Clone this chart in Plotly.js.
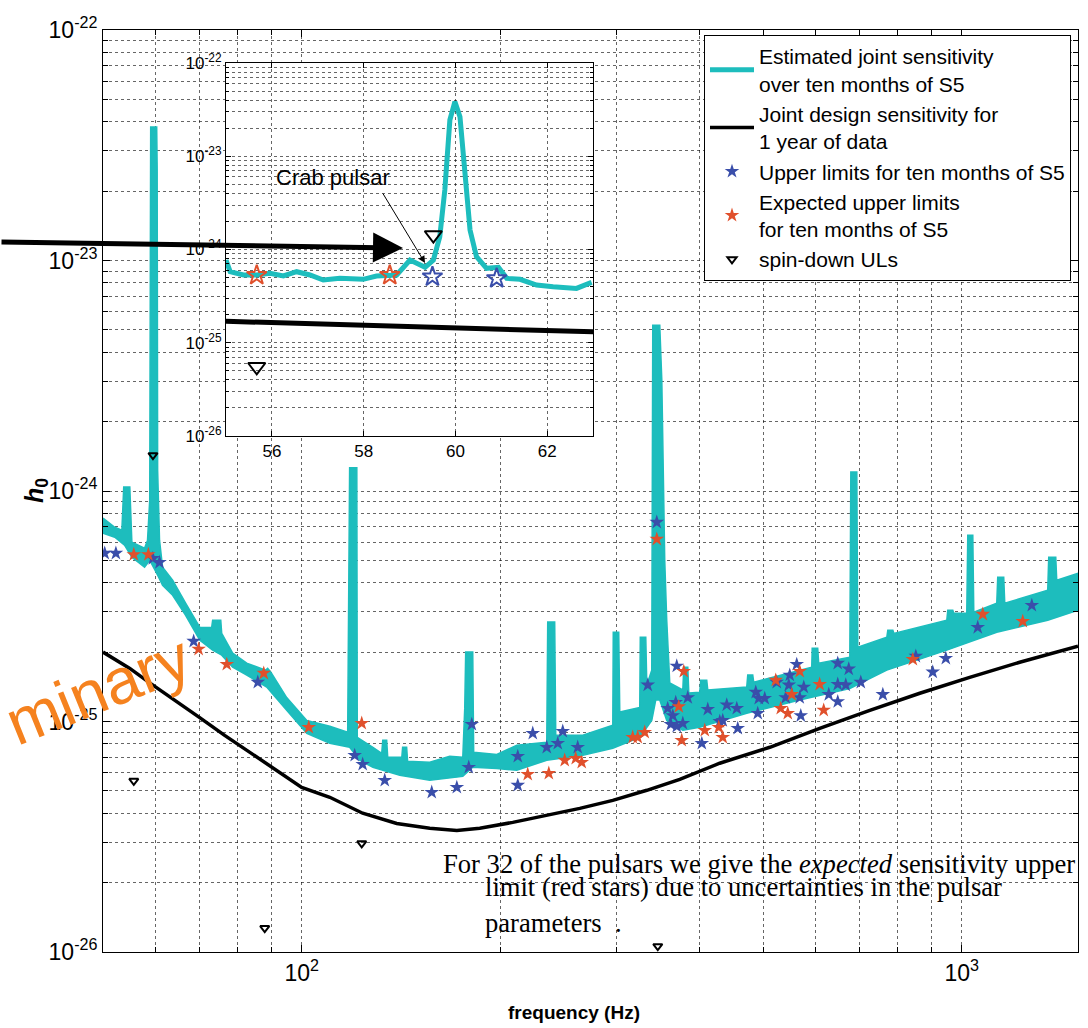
<!DOCTYPE html>
<html>
<head>
<meta charset="utf-8">
<script src="https://cdn.plot.ly/plotly-3.0.1.min.js"></script>
<style>html,body{margin:0;padding:0;background:#fff;}#chart{width:1088px;height:1028px;}</style>
</head>
<body>
<div id="chart"></div>
<script>
// ---------- data ----------
// Estimated joint sensitivity (main plot): upper and lower edge of the thick band
const sensUpperF = [50.0, 52.1, 53.4, 53.75, 54.9, 55.3, 57.8, 58.4, 58.85, 59.05, 60.3, 60.4, 60.5, 60.9, 61.55, 63.75, 66.7, 70.1, 73.05, 73.3, 75.4, 75.65, 78.6, 82.55, 88.2, 88.8, 89.75, 94.9, 101.8, 110.3, 117.4, 118.2, 121.2, 121.4, 128.2, 132.2, 132.7, 134.5, 135.0, 141.8, 142.2, 144.2, 144.7, 156.3, 167.6, 175.4, 176.6, 177.2, 181.6, 182.2, 197.5, 211.8, 235.1, 235.9, 241.7, 242.6, 266.6, 296.0, 296.5, 302.2, 303.3, 325.2, 325.8, 332.1, 333.3, 339.1, 340.3, 348.7, 351.2, 354.8, 357.3, 361.1, 377.9, 379.2, 384.5, 385.9, 400.9, 402.3, 410.8, 412.3, 472.3, 474.0, 482.3, 484.0, 592.5, 593.5, 605.0, 607.1, 676.7, 679.1, 693.4, 695.8, 769.9, 772.6, 786.3, 789.0, 949.1, 952.4, 969.2, 972.5, 1017.6, 1021.2, 1039.2, 1042.8, 1129.8, 1133.7, 1157.6, 1161.8, 1349.7, 1354.4, 1388, 1392.8, 1500];
const sensUpperH = [7.62e-25, 6.96e-25, 6.76e-25, 1.04e-24, 1.04e-24, 5.99e-25, 5.65e-25, 6.12e-25, 9.12e-25, 3.79e-23, 3.79e-23, 2.49e-23, 1.23e-24, 6.12e-25, 4.67e-25, 4.10e-25, 3.26e-25, 2.56e-25, 2.56e-25, 2.75e-25, 2.75e-25, 2.41e-25, 1.98e-25, 1.79e-25, 1.67e-25, 1.70e-25, 1.64e-25, 1.27e-25, 1.01e-25, 9.53e-26, 8.98e-26, 1.26e-24, 1.26e-24, 8.54e-26, 7.73e-26, 7.28e-26, 8.29e-26, 8.29e-26, 6.99e-26, 6.99e-26, 7.73e-26, 7.73e-26, 6.72e-26, 6.65e-26, 7.06e-26, 6.99e-26, 1.14e-25, 2.0e-25, 2.0e-25, 7.35e-26, 7.2e-26, 7.88e-26, 8.12e-26, 2.70e-25, 2.70e-25, 8.71e-26, 8.71e-26, 9.63e-26, 2.44e-25, 2.44e-25, 1.10e-25, 1.15e-25, 2.32e-25, 2.32e-25, 1.44e-25, 1.67e-25, 5.24e-24, 5.24e-24, 3.03e-24, 5.01e-25, 2.75e-25, 1.47e-25, 1.37e-25, 1.72e-25, 1.72e-25, 1.33e-25, 1.34e-25, 1.51e-25, 1.51e-25, 1.37e-25, 1.41e-25, 1.59e-25, 1.59e-25, 1.48e-25, 1.72e-25, 2.08e-25, 2.08e-25, 1.79e-25, 1.90e-25, 1.21e-24, 1.21e-24, 2.10e-25, 2.32e-25, 2.49e-25, 2.49e-25, 2.41e-25, 2.75e-25, 3.04e-25, 3.04e-25, 2.95e-25, 2.95e-25, 6.43e-25, 6.43e-25, 2.98e-25, 3.26e-25, 4.23e-25, 4.23e-25, 3.26e-25, 3.71e-25, 5.16e-25, 5.16e-25, 4.10e-25, 4.40e-25];
const sensLowerF = [50.0, 52.1, 53.9, 55.3, 57.8, 58.85, 60.5, 61.55, 63.75, 66.7, 70.1, 73.3, 75.65, 78.6, 82.55, 88.5, 94.9, 101.8, 110.3, 118.2, 122.4, 128.2, 140.8, 156.3, 175.4, 181.6, 197.5, 211.8, 235.1, 266.6, 296.0, 325.2, 339.1, 343.9, 348.7, 357.3, 377.9, 400.9, 472.3, 568.2, 676.7, 769.9, 949.1, 1129.8, 1349.7, 1500];
const sensLowerH = [6.56e-25, 6.30e-25, 5.82e-25, 5.16e-25, 4.67e-25, 5.01e-25, 4.31e-25, 3.90e-25, 3.53e-25, 2.89e-25, 2.25e-25, 2.04e-25, 1.94e-25, 1.72e-25, 1.59e-25, 1.41e-25, 1.12e-25, 8.89e-26, 8.04e-26, 7.73e-26, 6.79e-26, 6.33e-26, 5.84e-26, 5.56e-26, 5.78e-26, 6.33e-26, 6.26e-26, 6.14e-26, 6.79e-26, 7.13e-26, 7.65e-26, 8.54e-26, 1.01e-25, 1.24e-25, 1.24e-25, 1.01e-25, 9.16e-26, 9.44e-26, 1.085e-25, 1.24e-25, 1.39e-25, 1.67e-25, 2.04e-25, 2.44e-25, 2.75e-25, 3.04e-25];

// Estimated joint sensitivity, fine detail near 60 Hz (inset)
const insetF = [55.0, 55.09, 55.38, 55.67, 55.96, 56.25, 56.54, 56.83, 57.12, 57.48, 57.99, 58.28, 58.72, 59.01, 59.34, 59.52, 59.66, 59.77, 59.88, 59.99, 60.10, 60.21, 60.32, 60.46, 60.68, 60.94, 61.12, 61.41, 61.77, 62.13, 62.64, 62.97];
const insetH = [7.71e-25, 5.78e-25, 5.33e-25, 5.33e-25, 5.56e-25, 5.2e-25, 5.78e-25, 5.33e-25, 4.71e-25, 4.91e-25, 4.79e-25, 5.2e-25, 5.33e-25, 7.71e-25, 6.44e-25, 7.71e-25, 1.371e-24, 4.345e-24, 2.449e-23, 3.846e-23, 2.655e-23, 5.559e-24, 1.618e-24, 8.375e-25, 6.28e-25, 6.44e-25, 4.91e-25, 4.79e-25, 4.159e-25, 3.99e-25, 3.83e-25, 4.446e-25];

// Joint design sensitivity for 1 year of data
const designF = [50.0, 54.9, 58.85, 64.2, 70.06, 76.43, 82.55, 89.45, 100, 110.3, 123.7, 139.3, 156.3, 171.8, 186.1, 208.8, 235.1, 263.8, 296.0, 333.3, 373.9, 429.9, 511.9, 609.2, 725.5, 863.8, 1028, 1224, 1500];
const designH = [2.0e-25, 1.70e-25, 1.47e-25, 1.24e-25, 1.04e-25, 8.71e-26, 7.50e-26, 6.39e-26, 5.18e-26, 4.69e-26, 4.0e-26, 3.61e-26, 3.44e-26, 3.37e-26, 3.44e-26, 3.65e-26, 3.92e-26, 4.20e-26, 4.55e-26, 5.03e-26, 5.61e-26, 6.59e-26, 7.73e-26, 9.34e-26, 1.118e-25, 1.326e-25, 1.555e-25, 1.807e-25, 2.12e-25];

// Upper limits for ten months of S5 (blue stars)
const ulF = [50.3, 52.3, 59.5, 60.9, 68.6, 85.8, 120.3, 123.7, 133.6, 157.4, 171.8, 179.1, 181.0, 212.5, 212.5, 223.9, 235.1, 244.3, 248.6, 261.9, 334.4, 345.1, 370.0, 358.5, 368.7, 364.9, 362.4, 370.0, 377.9, 384.5, 412.3, 403.8, 429.9, 434.4, 440.5, 456.2, 457.7, 487.4, 490.8, 492.5, 502.9, 524.4, 541.1, 548.8, 546.9, 562.3, 570.3, 568.2, 576.3, 628.8, 648.8, 648.8, 648.8, 667.2, 674.2, 703.1, 759.3, 851.9, 903.7, 945.9, 1057.3, 1276.8];
const ulH = [5.37e-25, 5.37e-25, 5.1e-25, 4.9e-25, 2.23e-25, 1.48e-25, 7.13e-26, 6.52e-26, 5.56e-26, 4.93e-26, 5.18e-26, 6.33e-26, 9.72e-26, 7.06e-26, 5.29e-26, 8.89e-26, 7.73e-26, 8.04e-26, 9.07e-26, 7.73e-26, 1.44e-25, 7.32e-25, 1.74e-25, 1.14e-25, 1.21e-25, 1.06e-25, 9.72e-26, 9.53e-26, 9.82e-26, 1.27e-25, 1.13e-25, 8.04e-26, 1.0e-25, 1.01e-25, 1.18e-25, 1.14e-25, 9.34e-26, 1.34e-25, 1.085e-25, 1.26e-25, 1.26e-25, 1.48e-25, 1.27e-25, 1.59e-25, 1.44e-25, 1.77e-25, 1.06e-25, 1.27e-25, 1.41e-25, 1.31e-25, 1.45e-25, 1.22e-25, 1.79e-25, 1.44e-25, 1.69e-25, 1.48e-25, 1.31e-25, 1.92e-25, 1.64e-25, 1.88e-25, 2.56e-25, 3.19e-25];

// Expected upper limits for ten months of S5 (red stars)
const expF = [55.67, 58.57, 69.8, 77.0, 87.6, 102.5, 123.3, 220.0, 236.8, 250.3, 260.1, 265.6, 317.3, 322.9, 330.9, 345.1, 379.2, 372.6, 376.5, 408.0, 428.4, 434.4, 522.6, 531.8, 545.0, 568.2, 552.6, 609.2, 617.8, 843.0, 1076, 1237];
const expH = [5.3e-25, 5.3e-25, 2.06e-25, 1.77e-25, 1.62e-25, 9.44e-26, 9.82e-26, 5.90e-26, 5.96e-26, 6.79e-26, 6.92e-26, 6.65e-26, 8.54e-26, 8.54e-26, 8.98e-26, 6.18e-25, 1.65e-25, 1.16e-25, 8.29e-26, 9.16e-26, 9.44e-26, 8.54e-26, 1.51e-25, 1.14e-25, 1.085e-25, 1.65e-25, 1.31e-25, 1.45e-25, 1.12e-25, 1.86e-25, 2.92e-25, 2.72e-25];

// spin-down upper limits (triangles)
const sdF = [55.67, 59.52, 87.9, 123.3, 346.3];
const sdH = [5.53e-26, 1.43e-24, 1.27e-26, 2.96e-26, 1.06e-26];

// tick labels
const yDecadeVals = [1e-26, 1e-25, 1e-24, 1e-23, 1e-22];
const yDecadeText = ['10<sup>-26</sup>', '10<sup>-25</sup>', '10<sup>-24</sup>', '10<sup>-23</sup>', '10<sup>-22</sup>'];
const xDecadeVals = [100, 1000];
const xDecadeText = ['10<sup>2</sup>', '10<sup>3</sup>'];
const insetXTicks = [56, 58, 60, 62];
const insetXText = ['56', '58', '60', '62'];

// ---------- styling ----------
const CYAN = '#1DBDBD', BLUE = '#3A4EAA', RED = '#E0502C', ORANGE = '#F5821F';
const SANS = 'Liberation Sans, Arial, Helvetica, sans-serif';
const SERIF = 'Liberation Serif, Times New Roman, serif';
const GRID = 'rgba(0,0,0,0.6)';

// minor (unlabelled) log tick positions: 2..9 x 10^n
const yMinorVals = [];
[-26, -25, -24, -23].forEach(function (e) {
  for (let m = 2; m <= 9; m++) yMinorVals.push(m * Math.pow(10, e));
});
const xMinorVals = [];
[10, 100, 1000].forEach(function (d) {
  for (let m = 2; m <= 9; m++) {
    const v = m * d;
    if (v > 50 && v < 1500 && v !== 100 && v !== 1000) xMinorVals.push(v);
  }
});

const bandF = sensUpperF.concat(sensLowerF.slice().reverse());
const bandH = sensUpperH.concat(sensLowerH.slice().reverse());

const traces = [
  {x: bandF, y: bandH, type: 'scatter', mode: 'lines', fill: 'toself', fillcolor: CYAN,
   line: {color: CYAN, width: 1.5}, showlegend: false, hoverinfo: 'skip', xaxis: 'x', yaxis: 'y'},
  {x: designF, y: designH, type: 'scatter', mode: 'lines', line: {color: '#000', width: 3.5},
   name: 'Joint design sensitivity for<br>1 year of data', legendrank: 2, xaxis: 'x', yaxis: 'y'},
  {x: ulF, y: ulH, type: 'scatter', mode: 'markers', marker: {symbol: 'star', size: 11, color: BLUE},
   name: 'Upper limits for ten months of S5', legendrank: 3, xaxis: 'x', yaxis: 'y'},
  {x: expF, y: expH, type: 'scatter', mode: 'markers', marker: {symbol: 'star', size: 11, color: RED},
   name: 'Expected upper limits<br>for ten months of S5', legendrank: 4, xaxis: 'x', yaxis: 'y'},
  {x: sdF, y: sdH, type: 'scatter', mode: 'markers',
   marker: {symbol: 'triangle-down-open', size: 8, color: '#000', line: {width: 2, color: '#000'}},
   name: 'spin-down ULs', legendrank: 5, xaxis: 'x', yaxis: 'y'},
  // inset
  {x: insetF, y: insetH, type: 'scatter', mode: 'lines', line: {color: CYAN, width: 5},
   name: 'Estimated joint sensitivity<br>over ten months of S5', legendrank: 1, xaxis: 'x2', yaxis: 'y2'},
  {x: designF, y: designH, type: 'scatter', mode: 'lines', line: {color: '#000', width: 5},
   showlegend: false, xaxis: 'x2', yaxis: 'y2'},
  {x: ulF, y: ulH, type: 'scatter', mode: 'markers',
   marker: {symbol: 'star-open', size: 15, color: BLUE, line: {width: 2, color: BLUE}},
   showlegend: false, xaxis: 'x2', yaxis: 'y2'},
  {x: expF, y: expH, type: 'scatter', mode: 'markers',
   marker: {symbol: 'star-open', size: 15, color: RED, line: {width: 2, color: RED}},
   showlegend: false, xaxis: 'x2', yaxis: 'y2'},
  {x: sdF, y: sdH, type: 'scatter', mode: 'markers',
   marker: {symbol: 'triangle-down-open', size: 15, color: '#000', line: {width: 2, color: '#000'}},
   showlegend: false, xaxis: 'x2', yaxis: 'y2'}
];

function px2paperX(px) { return (px - 103) / 975; }
function px2paperY(py) { return (952 - py) / 922; }

function axisStyle(extra) {
  return Object.assign({
    ticks: 'inside', ticklen: 7, tickcolor: '#000', showline: true, linecolor: '#000', linewidth: 1,
    mirror: 'ticks', showgrid: true, gridcolor: GRID, griddash: 'dot', gridwidth: 1, zeroline: false,
    tickmode: 'array'
  }, extra);
}
function minorStyle(vals, len) {
  return {tickmode: 'array', tickvals: vals, ticks: 'inside', ticklen: len, tickcolor: '#000',
          showgrid: true, gridcolor: GRID, griddash: 'dot', gridwidth: 1};
}

const layout = {
  width: 1088, height: 1028,
  margin: {l: 103, r: 10, t: 30, b: 76},
  paper_bgcolor: '#fff', plot_bgcolor: '#fff',
  font: {family: SANS, color: '#000'},
  showlegend: true,
  legend: {x: px2paperX(704), y: px2paperY(35), xanchor: 'left', yanchor: 'top',
           bgcolor: '#fff', bordercolor: '#000', borderwidth: 1, itemwidth: 44,
           font: {family: SANS, size: 21, color: '#000'}, tracegroupgap: 0},
  xaxis: axisStyle({type: 'log', range: [Math.log10(50), Math.log10(1500)], domain: [0, 1],
          tickvals: xDecadeVals, ticktext: xDecadeText, minor: minorStyle(xMinorVals, 5),
          tickfont: {family: SANS, size: 23}}),
  yaxis: axisStyle({type: 'log', range: [-26, -22], domain: [0, 1],
          tickvals: yDecadeVals, ticktext: yDecadeText, minor: minorStyle(yMinorVals, 5),
          tickfont: {family: SANS, size: 23}}),
  xaxis2: axisStyle({type: 'linear', range: [55, 63], domain: [px2paperX(226), px2paperX(593)], anchor: 'y2',
           tickvals: insetXTicks, ticktext: insetXText, ticklen: 5,
           tickfont: {family: SANS, size: 17}}),
  yaxis2: axisStyle({type: 'log', range: [-26, -22], domain: [px2paperY(436), px2paperY(63)], anchor: 'x2',
           tickvals: yDecadeVals, ticktext: yDecadeText, ticklen: 5, minor: minorStyle(yMinorVals, 3),
           tickfont: {family: SANS, size: 17}}),
  annotations: [
    // axis titles
    {text: '<b><i>h</i><sub>0</sub></b>', xref: 'paper', yref: 'paper', x: px2paperX(36), y: px2paperY(491),
     textangle: -90, showarrow: false, font: {family: SANS, size: 25}, xanchor: 'center', yanchor: 'middle'},
    {text: '<b>frequency (Hz)</b>', xref: 'paper', yref: 'paper', x: px2paperX(574), y: px2paperY(1012),
     showarrow: false, font: {family: SANS, size: 19}, xanchor: 'center', yanchor: 'middle'},
    // Crab pulsar label and pointer
    {text: 'Crab pulsar', xref: 'paper', yref: 'paper', x: px2paperX(333), y: px2paperY(177),
     showarrow: false, font: {family: SANS, size: 22}, xanchor: 'center', yanchor: 'middle'},
    {text: '', xref: 'paper', yref: 'paper', x: px2paperX(425), y: px2paperY(263),
     showarrow: true, ax: 382 - 425, ay: 192 - 263, arrowhead: 2, arrowsize: 1.4, arrowwidth: 1, arrowcolor: '#000'},
    // big arrow from the left edge
    {text: '', xref: 'paper', yref: 'paper', x: px2paperX(403), y: px2paperY(248),
     showarrow: true, ax: -420, ay: -6, arrowhead: 2, arrowsize: 1.2, arrowwidth: 5, arrowcolor: '#000'},
    // note text
    {text: 'For 32 of the pulsars we give the <i>expected</i> sensitivity upper', xref: 'paper', yref: 'paper',
     x: px2paperX(441), y: px2paperY(864), xanchor: 'left', yanchor: 'middle', showarrow: false,
     font: {family: SERIF, size: 26.6}},
    {text: 'limit (red stars) due to uncertainties in the pulsar', xref: 'paper', yref: 'paper',
     x: px2paperX(483), y: px2paperY(887), xanchor: 'left', yanchor: 'middle', showarrow: false,
     font: {family: SERIF, size: 26.6}},
    {text: 'parameters  .', xref: 'paper', yref: 'paper',
     x: px2paperX(483), y: px2paperY(923), xanchor: 'left', yanchor: 'middle', showarrow: false,
     font: {family: SERIF, size: 26.6}},
    // watermark
    {text: 'minary', xref: 'paper', yref: 'paper', x: px2paperX(98), y: px2paperY(690),
     xanchor: 'center', yanchor: 'middle', textangle: -22, showarrow: false,
     font: {family: SANS, size: 64, color: ORANGE}}
  ]
};

Plotly.newPlot('chart', traces, layout, {displayModeBar: false, staticPlot: true});
</script>
</body>
</html>
